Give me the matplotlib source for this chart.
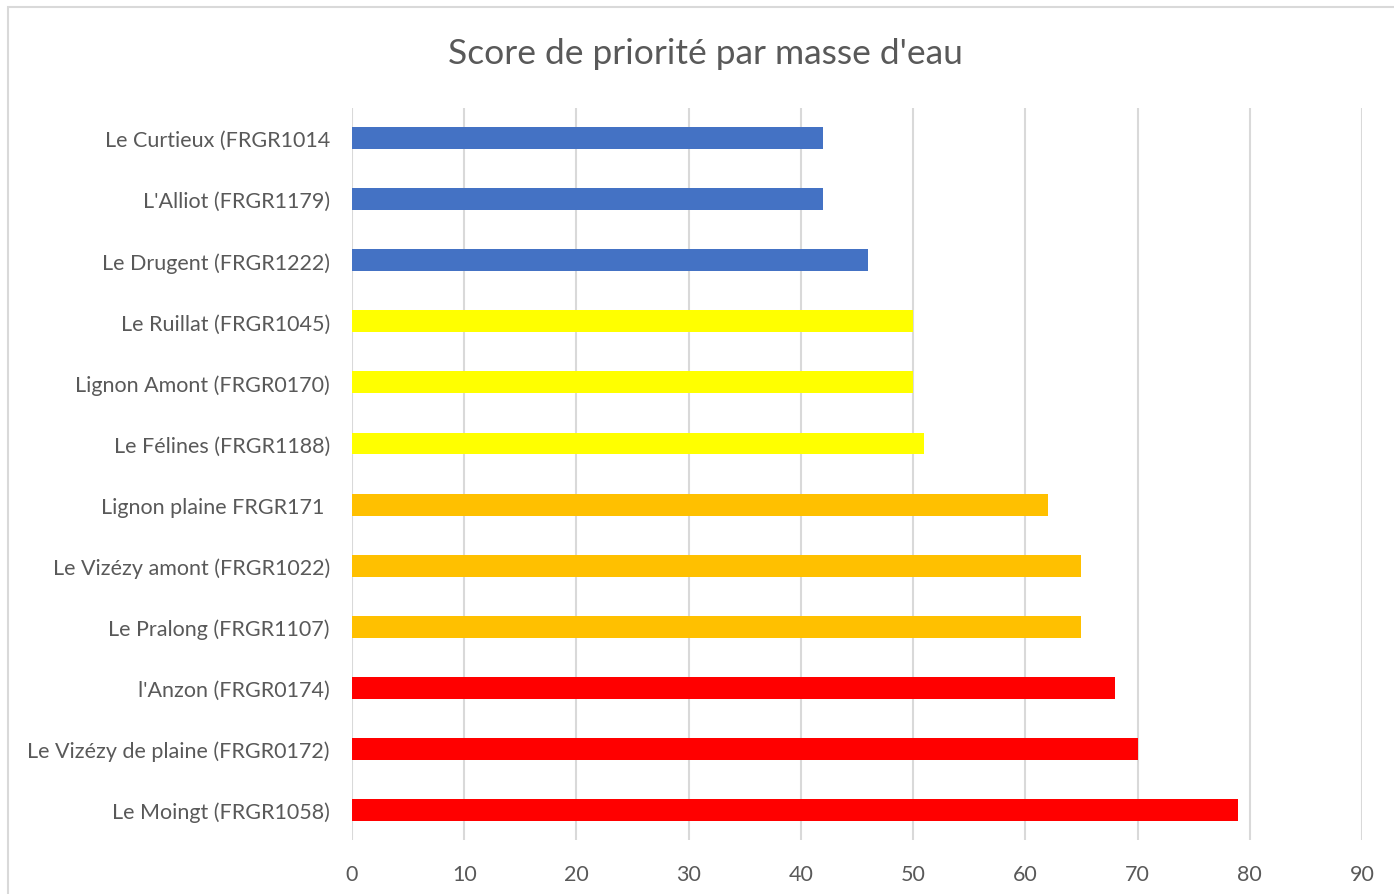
import matplotlib
matplotlib.use('Agg')
import matplotlib.pyplot as plt
from matplotlib.patches import Rectangle

plt.rcParams['font.family'] = ['Lato', 'DejaVu Sans']

# categories listed top to bottom as in the chart
labels = [
    "Le Curtieux (FRGR1014",
    "L'Alliot (FRGR1179)",
    "Le Drugent (FRGR1222)",
    "Le Ruillat (FRGR1045)",
    "Lignon Amont (FRGR0170)",
    "Le Félines (FRGR1188)",
    "Lignon plaine FRGR171 ",
    "Le Vizézy amont (FRGR1022)",
    "Le Pralong (FRGR1107)",
    "l'Anzon (FRGR0174)",
    "Le Vizézy de plaine (FRGR0172)",
    "Le Moingt (FRGR1058)",
]
scores = [42, 42, 46, 50, 50, 51, 62, 65, 65, 68, 70, 79]
colors = ['#4472C4'] * 3 + ['#FFFF00'] * 3 + ['#FFC000'] * 3 + ['#FF0000'] * 3

txt = '#595959'

fig = plt.figure(figsize=(13.94, 8.95), dpi=100)
ax = fig.add_axes([0.2525, 0.0600, 0.7245, 0.8185])

pos = list(range(len(labels)))
ax.barh(pos, scores, height=0.36, color=colors, zorder=3)
ax.set_ylim(len(labels) - 0.5, -0.5)
ax.set_yticks(pos)
ax.set_yticklabels(labels, fontsize=15.5, color=txt)

ax.set_xlim(0, 90)
ax.set_xticks(range(0, 91, 10))
ax.tick_params(axis='x', labelsize=15.5, colors=txt, length=0, pad=17)
ax.tick_params(axis='y', length=0, pad=16)
ax.grid(axis='x', color='#D9D9D9', linewidth=1.5, zorder=0)
for sp in ax.spines.values():
    sp.set_visible(False)

fig.text(0.506, 0.940, "Score de priorité par masse d'eau", ha='center', va='center',
         fontsize=25.5, color=txt)

# chart frame
fig.patches.append(Rectangle((8 / 1394, -0.05), 1.1, 1 - 8 / 895 + 0.05,
                             transform=fig.transFigure, fill=False,
                             edgecolor='#D9D9D9', linewidth=1.5))

fig.savefig('out.png', dpi=100)
